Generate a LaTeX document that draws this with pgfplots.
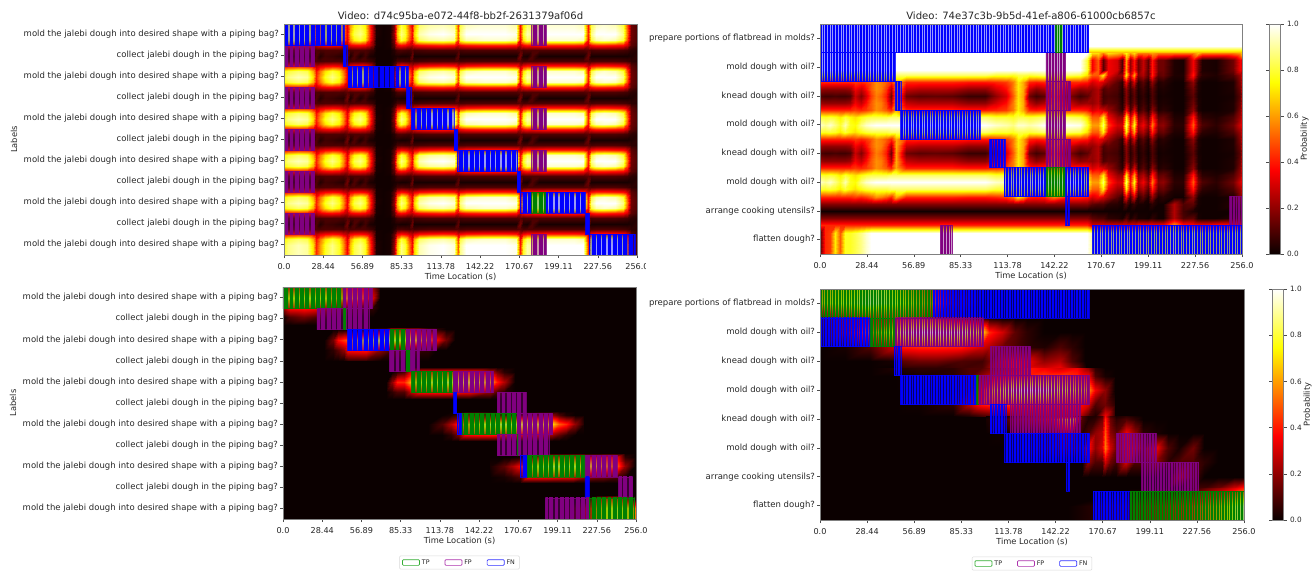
\documentclass[border=0pt]{standalone}
\usepackage{fontspec}
\setmainfont{DejaVu Sans}
\usepackage{pgfplots}
\pgfplotsset{compat=1.18}
\usetikzlibrary{patterns.meta}
\definecolor{hot0}{rgb}{0.0416,0,0}
\definecolor{cTP}{rgb}{0,0.5,0}
\definecolor{cFP}{rgb}{0.5,0,0.5}
\definecolor{cFN}{rgb}{0,0,1}
\definecolor{lTP}{rgb}{0.2,0.68,0.2}
\definecolor{lFP}{rgb}{0.68,0.2,0.68}
\definecolor{lFN}{rgb}{0.2,0.2,1}
\newcommand\heatgrid[2]{%
  \gdef\hd{}%
  \foreach \xx [count=\i] in {#1} {\expandafter\xdef\csname hx\i\endcsname{\xx}\xdef\hn{\i}}%
  \foreach \yy/\vv in {#2} {%
    \edef\tmpl{\vv}\gdef\hr{}%
    \foreach \mm [count=\i] in \tmpl {\xdef\hr{\hr (\csname hx\i\endcsname,\yy) [\mm]}}%
    \xdef\hd{\hd\hr}}%
  \edef\hdo{\noexpand\addplot[forget plot,surf,shader=interp,mesh/cols=\hn,point meta=explicit] coordinates {\hd};}\hdo}
\newcommand\rc[4]{%
  \pgfmathsetmacro\ya{#2-0.5}\pgfmathsetmacro\yb{#2+0.5}%
  \addplot[forget plot,draw=#1,line width=0.6pt,fill=#1,fill opacity=0.4,draw opacity=0.8] coordinates {(#3,\ya)(#4,\ya)(#4,\yb)(#3,\yb)} -- cycle;
  \addplot[forget plot,draw=none,fill opacity=0.65,pattern={Lines[angle=90,distance=\sd,line width=\sw]},pattern color=#1] coordinates {(#3,\ya)(#4,\ya)(#4,\yb)(#3,\yb)} -- cycle;}
\newcommand\FN[3]{\rc{cFN}{#1}{#2}{#3}}
\newcommand\FP[3]{\rc{cFP}{#1}{#2}{#3}}
\newcommand\TP[3]{\rc{cTP}{#1}{#2}{#3}}
% panel 1 vectors
\def\pA{.8,.88,.93,.9,.7,.42,.6,.78,.88,.78,.6,.35,.65,.82,.88,.78,.5,.25,.03,.01,.02,.2,.65,.88,.8,.55,.36,.68,.92,.98,1,.96,.5,.88,1,1,1,.98,.4,.78,.92,.88,.96,1,1,1,1,.42,.88,1,1,1,.88,.55,.15,.1}
\def\pQ{.74,.8,.85,.82,.62,.38,.54,.7,.8,.72,.55,.33,.58,.74,.8,.72,.45,.22,.02,.01,.02,.16,.58,.8,.72,.48,.33,.6,.84,.9,.92,.88,.45,.8,.92,.95,.95,.9,.36,.7,.84,.8,.88,.95,.95,.95,.92,.38,.8,.92,.95,.92,.8,.48,.14,.1}
\def\pE{.36,.38,.4,.38,.33,.26,.32,.36,.38,.36,.3,.25,.34,.37,.38,.36,.3,.18,.02,.01,.02,.12,.33,.38,.36,.3,.26,.33,.38,.4,.42,.4,.3,.36,.4,.42,.42,.4,.26,.36,.4,.38,.4,.42,.42,.42,.4,.28,.38,.42,.42,.4,.38,.3,.12,.08}
\def\pD{.09,.1,.1,.1,.09,.1,.09,.1,.1,.1,.09,.12,.09,.1,.1,.1,.08,.06,.01,.01,.01,.04,.09,.1,.09,.08,.11,.08,.09,.1,.1,.1,.11,.09,.1,.1,.1,.1,.12,.09,.1,.1,.1,.1,.1,.1,.1,.12,.09,.1,.1,.1,.09,.08,.05,.04}
\def\pB{.03,.03,.04,.03,.04,.1,.04,.08,.07,.05,.04,.15,.03,.1,.03,.08,.03,.02,.01,.01,.01,.02,.03,.02,.02,.03,.14,.02,.02,.02,.02,.02,.12,.02,.02,.02,.02,.02,.16,.03,.02,.1,.02,.02,.02,.02,.02,.14,.02,.02,.02,.02,.02,.02,.03,.05}
% panel 2 vectors
\def\qAl{1,1,1,1,1,1,1,1,1,1,1,1,1,1,1,1,1,1,1,1,1,1,1,1,1,1,1,1,1,1,1,1,1,.8}
\def\qEo{1,1,1,1,1,1,1,1,1,1,1,1,1,1,1,1,1,1,1,1,1,1,1,1,1,1,1,1,1,1,1,1,1,1,.7,.7,.55,.7,.65,.6,.75,.6,.7,.55,.55,.55,.6,.55,.55,.55,.55,.55,.65,.55,.55,.55,.6,.7}
\def\qA{\qAl,.35,.5,.12,.35,.3,.1,.6,.2,.4,.15,.28,.12,.4,.15,.15,.03,.02,.35,.15,.03,.02,.15,.35,.3}
\def\qK{.1,.08,.08,.09,.08,.08,.1,.28,.18,.3,.45,.55,.5,.4,.15,.6,.15,.12,.13,.12,.07,.07,.2,.3,.5,.7,.6,.15,.08,.12,.5,.2,.08,.12,.2,.25,.08,.1,.08,.02,.18,.04,.12,.02,.06,.01,.1,.01,.02,.01,.01,.12,.02,.01,.01,.02,.12,.3}
\def\qKQ{.22,.2,.2,.2,.2,.2,.22,.35,.28,.38,.5,.58,.55,.45,.25,.62,.28,.25,.25,.25,.2,.2,.3,.38,.55,.72,.62,.28,.2,.25,.55,.3,.2,.22,.2,.25,.1,.13,.1,.03,.2,.06,.15,.03,.08,.02,.12,.02,.03,.01,.01,.15,.03,.01,.01,.03,.15,.32}
\def\qEW{.42,.42,.42,.42,.42,.42,.42,.45,.42,.45,.5,.58,.55,.5,.42,.62,.42,.42,.42,.42,.4,.4,.42,.45,.55,.72,.62,.42,.4,.42,.55,.42,.42,.4,.3,.35,.3,.22,.12,.05,.35,.1,.3,.05,.12,.03,.2,.03,.05,.01,.01,.2,.03,.01,.01,.03,.18,.32}
\def\qWQ{.8,.78,.8,.78,.72,.8,.74,.7,.76,.8,.82,.82,.82,.82,.85,.85,.85,.85,.85,.85,.85,.85,.8,.8,.78,.82,.82,.8,.82,.85,.85,.85,.82,.7,.5,.5,.72,.35,.22,.2,.72,.3,.6,.18,.25,.12,.42,.12,.14,.03,.03,.4,.12,.05,.03,.1,.22,.32}
\def\qW{.95,.9,.95,.88,.8,.92,.78,.75,.88,.95,.98,1,1,1,1,1,1,1,1,1,1,1,.95,.92,.88,.95,.95,.92,.95,1,1,1,.98,.8,.6,.6,.85,.45,.3,.3,.85,.4,.75,.25,.35,.2,.55,.18,.2,.05,.05,.5,.18,.1,.05,.15,.3,.35}
\def\qNl{.18,.18,.18,.18,.18,.18,.18,.18,.18,.18,.18,.18,.18,.18,.18,.18,.18,.18,.18,.18,.18,.18,.18,.18,.18,.18,.18,.18,.18,.18,.18,.18,.18,.18}
\def\qNa{\qNl,.12,.1,.1,.05,.04,.02,.1,.02,.06,.02,.02,.01,.05,.01,.01,.25,.1,.12,.02,.01,.01,.04,.1,.2}
\def\qNo{.01,.01,.01,.01,.01,.01,.01,.01,.01,.01,.01,.01,.01,.01,.01,.01,.01,.01,.01,.01,.01,.01,.01,.01,.01,.01,.01,.01,.01,.01,.01,.01,.01,.01,.01,.01,.01,.01,.01,.01,.01,.01,.01,.01,.01,.01,.01,.01,.01,.25,.08,.03,.01,.01,.01,.01,.05,.1}
\def\qEN{.42,.42,.42,.42,.42,.42,.42,.42,.42,.42,.42,.42,.42,.42,.42,.42,.42,.42,.42,.42,.42,.42,.42,.42,.42,.42,.42,.42,.42,.42,.42,.42,.42,.42,.3,.3,.3,.3,.3,.3,.3,.3,.3,.35,.35,.35,.35,.35,.35,.6,.4,.38,.35,.35,.38,.38,.38,.4}
\def\qZ{.12,.42,.45,.72,.5,.78,.78,.82,.88,.95,1,1,1,1,1,1,1,1,1,1,1,1,1,1,1,1,1,1,1,1,1,1,1,1,.9,.9,.85,.8,.85,.8,.9,.8,.85,.8,.8,.75,.8,.75,.75,.85,.75,.85,.75,.75,.75,.8,.8,.7}
\def\moldq{mold the jalebi dough into desired shape with a piping bag?}
\def\collq{collect jalebi dough in the piping bag?}
\pgfplotsset{
  colormap={hot2}{rgb(0pt)=(0.0416,0,0) rgb(365pt)=(1,0,0) rgb(746pt)=(1,1,0) rgb(1000pt)=(1,1,1)},
  colormap name=hot2,
  base/.style={scale only axis,enlargelimits=false,axis on top,y dir=reverse,
    axis line style={draw=black!50,line width=0.8pt},
    tick style={draw=black!70,line width=0.5pt},tick align=outside,major tick length=3pt,
    xtick pos=bottom,ytick pos=left,
    /pgf/number format/assume math mode=true,
    yticklabel style={font=\fontsize{8.5}{10}\selectfont,text=black!85,xshift=1.5pt},
    xticklabel style={font=\fontsize{8.1}{10}\selectfont,text=black!85,yshift=-1.5pt},
    label style={font=\fontsize{8.3}{10}\selectfont,text=black!85},
    title style={font=\fontsize{10.1}{12}\selectfont,text=black!85,yshift=-5pt},
    xlabel={Time Location (s)},xlabel style={yshift=3pt},
    xmin=0,xmax=256,point meta min=0,point meta max=1,
    xtick={0,28.44,56.89,85.33,113.78,142.22,170.67,199.11,227.56,256},
    xticklabels={0.0,28.44,56.89,85.33,113.78,142.22,170.67,199.11,227.56,256.0}},
  rowsA/.style={ymin=-0.5,ymax=10.5,ytick={0,...,10},
    yticklabels={\moldq,\collq,\moldq,\collq,\moldq,\collq,\moldq,\collq,\moldq,\collq,\moldq},
    ylabel={Labels},ylabel style={at={(-270pt,0.5)},anchor=center,yshift=0pt}},
  rowsB/.style={ymin=-0.5,ymax=7.5,ytick={0,...,7},
    yticklabels={prepare portions of flatbread in molds?,mold dough with oil?,knead dough with oil?,mold dough with oil?,knead dough with oil?,mold dough with oil?,arrange cooking utensils?,flatten dough?}},
  cbar/.style={colorbar,colorbar style={at={(parent axis.north east)},anchor=north west,xshift=#1,width=11.5pt,
    ytick={0,0.2,0.4,0.6,0.8,1},yticklabels={0.0,0.2,0.4,0.6,0.8,1.0},
    axis line style={draw=black!50},
    ylabel={Probability},ylabel style={font=\fontsize{8.3}{10}\selectfont,text=black!85,yshift=5pt},
    /pgf/number format/assume math mode=true,
    yticklabel style={font=\fontsize{7.3}{9}\selectfont,text=black!85},tick align=outside,major tick length=3pt}},
  leg/.style={legend columns=3,legend style={at={(0.5,0)},anchor=center,yshift=-43.5pt,
    font=\fontsize{6.3}{7.5}\selectfont,draw=black!15,line width=0.5pt,rounded corners=1pt,inner xsep=2.5pt,inner ysep=1.5pt,
    /tikz/every even column/.append style={column sep=13pt},text=black!85}},
}
\newcommand\legimg{%
  \addlegendimage{area legend,draw=lTP,fill=white,line width=0.7pt}\addlegendentry{TP}
  \addlegendimage{area legend,draw=lFP,fill=white,line width=0.7pt}\addlegendentry{FP}
  \addlegendimage{area legend,draw=lFN,fill=white,line width=0.7pt}\addlegendentry{FN}}
\begin{document}
\begin{tikzpicture}[x=1pt,y=1pt]
\useasboundingbox (0,0) rectangle (1315,571);
% ---------------- top left
\def\sd{5.3pt}\def\sw{3.9pt}
\begin{axis}[base,rowsA,at={(284pt,316pt)},anchor=south west,width=353pt,height=231pt,
  title={Video: d74c95ba-e072-44f8-bb2f-2631379af06d}]
\heatgrid{0,3,10,17,21,23.5,26,30,35,40,43,45.5,48,51,55,59,62,64.5,67,72,77,79.5,82,85,88,90.5,92.5,94.5,98,105,115,123,126,128,132,145,160,168,171.5,173.5,176,180,185,190,200,210,217,220.5,223,226,232,240,246,249,252,256}{
 -0.5/\pQ,0/\pA,0.25/\pQ,0.5/\pE,0.75/\pD,1/\pB,1.25/\pD,1.5/\pE,1.75/\pQ,2/\pA,2.25/\pQ,2.5/\pE,2.75/\pD,3/\pB,3.25/\pD,3.5/\pE,3.75/\pQ,4/\pA,4.25/\pQ,4.5/\pE,4.75/\pD,5/\pB,5.25/\pD,5.5/\pE,5.75/\pQ,6/\pA,6.25/\pQ,6.5/\pE,6.75/\pD,7/\pB,7.25/\pD,7.5/\pE,7.75/\pQ,8/\pA,8.25/\pQ,8.5/\pE,8.75/\pD,9/\pB,9.25/\pD,9.5/\pE,9.75/\pQ,10/\pA,10.5/\pA}
\FP{1}{0}{22.2}\FP{3}{0}{22.2}\FP{5}{0}{22.2}\FP{7}{0}{22.2}\FP{9}{0}{22.2}
\FP{0}{179.7}{190}\FP{2}{179.7}{190}\FP{4}{179.7}{190}\FP{6}{179.7}{190}\FP{10}{179.7}{190}
\FN{0}{0}{43.6}\FN{1}{43}{45.7}\FN{2}{46.3}{89.8}\FN{3}{89}{92}\FN{4}{92.5}{123.2}\FN{5}{123.2}{126}\FN{6}{126}{169.5}\FN{7}{169.2}{171.3}
\FN{8}{171.3}{179.7}\TP{8}{179.7}{190}\FN{8}{190}{218.5}\FN{9}{218.8}{221.5}\FN{10}{221.5}{254.5}
\end{axis}
% ---------------- top right
\def\sd{2.7pt}\def\sw{1.7pt}
\begin{axis}[base,rowsB,cbar=18.5pt,at={(820pt,317pt)},anchor=south west,width=422pt,height=230pt,
  title={Video: 74e37c3b-9b5d-41ef-a806-61000cb6857c}]
\heatgrid{0,160,162,256}{-0.5/{1,1,1,1},0.25/{1,1,1,1},0.5/{1,1,.6,.6}}
\heatgrid{0,3,6,9,12,15,18,21,25,28,31,34,37,40,43,46,52,60,70,80,90,100,107,113,117,120,123,127,131,136,142,150,158,162,165,168.8,171.7,175,180,183,185.6,188,190.5,193,196,199,201.7,205,208,215,220,226,229,232,240,250.6,254.8,256}{
 0.5/\qEo,0.75/\qA,1.1/\qA,1.28/\qWQ,1.5/\qEW,1.75/\qKQ,2/\qK,2.25/\qKQ,2.5/\qEW,2.75/\qWQ,3/\qW,3.25/\qWQ,3.5/\qEW,3.75/\qKQ,4/\qK,4.25/\qKQ,4.5/\qEW,4.75/\qWQ,5/\qW,5.25/\qWQ,5.5/\qEW,5.75/\qNa,6/\qNo,6.25/\qNa,6.5/\qEN,6.78/\qZ,7.5/\qZ}
\FP{7}{72.8}{80.3}\FP{1}{137}{149}\FP{3}{137}{149}\FP{2}{137}{152}\FP{4}{137}{152}\FP{6}{248.5}{256}
\FN{0}{0}{143}\TP{0}{143}{147.7}\FN{0}{147.7}{163}\FN{1}{0}{45.6}\FN{2}{45.4}{49.2}\FN{3}{49}{97}\FN{4}{103}{112.3}
\FN{5}{111.6}{137}\TP{5}{137}{149}\FN{5}{149}{163}\FN{6}{149}{151.3}\FN{7}{165}{256}
\end{axis}
% ---------------- bottom left
\def\sd{5.3pt}\def\sw{3.9pt}
\begin{axis}[base,rowsA,leg,at={(283pt,52pt)},anchor=south west,width=353pt,height=232pt,axis background/.style={fill=hot0}]
\legimg
\heatgrid{0,5,15,25,35,44,55,65,70}{-0.5/{.3,.35,.4,.4,.4,.4,.35,.2,0},0/{.7,.75,.8,.8,.7,.6,.55,.3,0},0.5/{.2,.38,.4,.36,.2,.1,.1,.05,0},0.9/{0,.1,.15,.1,.03,0,0,0,0},1.3/{0,0,0,0,0,0,0,0,0}}
\heatgrid{30,36,40,44,47,60,70,78,90,105,112,118,125}{1.4/{0,0,0,0,0,0,0,0,0,0,0,0,0},1.5/{0,0,0,0,0,.05,.1,.35,.3,.1,.05,0,0},2/{0,.15,.38,.45,.5,.7,.8,.85,.8,.55,.35,.15,0},2.5/{0,.05,.12,.2,.38,.4,.2,.1,.1,.05,0,0,0},3/{0,0,0,0,.05,.05,0,0,0,0,0,0,0}}
\heatgrid{75,79,83,88,92,100,120,135,150,155,160,168}{3.3/{0,0,0,0,0,0,0,0,0,0,0,0},3.55/{0,0,.05,.1,.3,.4,.42,.42,.3,.15,.05,0},4/{0,.2,.42,.42,.6,.8,.85,.8,.65,.4,.25,0},4.5/{0,.05,.1,.1,.25,.38,.4,.35,.2,.1,.05,0},4.8/{0,0,0,0,0,0,0,0,0,0,0,0}}
\heatgrid{105,115,122,127,132,150,170,185,195,200,205,212,218}{5.4/{0,0,0,0,0,0,0,0,0,0,0,0,0},5.55/{0,0,.02,.08,.2,.1,.1,.15,.2,.1,.03,0,0},6/{0,.1,.25,.4,.65,.85,.85,.75,.7,.5,.42,.2,.03},6.5/{0,0,.05,.15,.35,.38,.35,.3,.2,.12,.05,0,0},6.8/{0,0,0,0,0,0,0,0,0,0,0,0,0}}
\heatgrid{150,160,165,172,178,190,210,220,232,242,248,255}{7.35/{0,0,0,0,0,0,0,0,0,0,0,0},7.55/{0,0,0,.03,.1,.38,.4,.3,.4,.35,.05,0},8/{.02,.12,.22,.35,.7,.85,.85,.75,.6,.5,.2,0},8.5/{0,.02,.05,.1,.38,.38,.35,.2,.15,.1,.02,0},8.8/{0,0,0,0,0,0,0,0,0,0,0,0}}
\heatgrid{205,215,222,228,235,243,250,254,256}{9.35/{0,0,0,0,0,0,0,0,0},9.55/{0,0,.05,.3,.42,.42,.2,.05,0},10/{0,.1,.3,.6,.75,.8,.7,.6,.5},10.5/{0,.1,.3,.6,.75,.8,.7,.6,.5}}
\TP{0}{0}{43.9}\FP{0}{43.9}{64.6}
\FP{1}{24.6}{43.9}\TP{1}{43.9}{45.7}\FP{1}{45.7}{62.5}
\FN{2}{46.9}{77.8}\TP{2}{77.8}{89.5}\FP{2}{89.5}{111.5}
\FP{3}{77.2}{89.2}\TP{3}{89.2}{92.3}\FP{3}{92.3}{98.9}
\TP{4}{93.2}{123.5}\FP{4}{123.5}{152.4}
\FN{5}{123.8}{125.9}\FP{5}{155.4}{176.4}
\FN{6}{126.2}{129.8}\TP{6}{129.8}{169.8}\FP{6}{169.8}{195.6}
\FP{7}{155.4}{170.1}\TP{7}{170.1}{171}\FP{7}{171}{193.2}
\FN{8}{171.9}{177.3}\TP{8}{177.3}{219}\FP{8}{219}{242.5}
\FN{9}{219}{222}\FP{9}{243.4}{253.6}
\FP{10}{190.2}{222}\TP{10}{222}{255}
\end{axis}
% ---------------- bottom right
\def\sd{2.7pt}\def\sw{1.7pt}
\begin{axis}[base,rowsB,leg,cbar=19.5pt,at={(820pt,51pt)},anchor=south west,width=424pt,height=231pt,axis background/.style={fill=hot0}]
\legimg
\heatgrid{0,10,20,30,40,50,60,68,80,100}{-0.5/{.6,.7,.7,.85,.8,.65,.55,.4,.1,0},0/{.65,.75,.8,.95,.85,.75,.65,.5,.15,0},0.5/{.1,.25,.3,.35,.4,.45,.4,.2,.08,0}}
\heatgrid{0,15,30,45,50,60,70,85,98,102,110,118,125,135,145,152,160}{0.5/{.1,.25,.3,.35,.4,.45,.4,.2,.08,.03,0,0,0,0,0,0,0},1/{.05,.25,.5,.8,.9,1,1,.95,.7,.42,.3,.12,.05,0,0,0,0},1.5/{0,.02,.1,.3,.4,.42,.42,.4,.3,.25,.15,.1,.05,.03,.1,.05,0},2/{0,0,0,.02,.12,.15,.15,.1,.08,.15,.3,.38,.35,.2,.25,.1,0},2.25/{0,0,0,0,.05,.05,.05,.08,.1,.2,.3,.4,.35,.3,.35,.2,.03}}
\heatgrid{0,30,45,60,80,90,97,105,115,125,135,145,155,162,166,172,178}{2.25/{0,0,.03,.05,.05,.1,.1,.2,.3,.4,.35,.3,.35,.2,.05,0,0},2.5/{0,0,0,.02,.05,.1,.2,.3,.38,.42,.45,.45,.42,.35,.1,.02,0},3/{0,0,0,0,.02,.1,.35,.65,.9,1,.95,.8,.7,.6,.35,.2,0},3.5/{0,0,0,.01,.05,.25,.38,.42,.42,.42,.42,.4,.4,.3,.1,.15,.05},3.9/{0,0,0,0,0,.03,.08,.12,.2,.25,.3,.3,.3,.1,.03,.35,.05}}
\heatgrid{100,112,120,130,140,146,152,158,162,166,170,172,175,179,185,190,195,203,210,217,225,232,240,250,256}{
3.9/{0,.05,.15,.25,.3,.3,.28,.1,.03,.03,.1,.35,.1,.02,.05,.02,0,0,0,0,0,0,0,0,0},
4/{.02,.1,.2,.28,.35,.55,.7,.1,.03,.05,.15,.42,.15,.05,.1,.05,0,0,0,0,0,0,0,0,0},
4.5/{0,.01,.02,.05,.1,.2,.2,.05,.1,.2,.25,.5,.2,.12,.35,.2,.05,.02,0,0,0,0,0,0,0},
5/{0,0,.02,.05,.1,.15,.15,.1,.4,.2,.3,.55,.3,.15,.35,.3,.15,.35,.1,.02,.15,0,0,0,0},
5.5/{0,0,0,0,0,0,0,0,.2,.1,.1,.3,.15,.08,.3,.1,.1,.2,.05,.1,.1,.05,0,0,0},
6/{0,0,0,0,0,0,0,0,0,0,0,0,0,0,0,0,0,0,0,.25,.1,0,0,0,0},
6.4/{0,0,0,0,0,0,0,0,0,0,0,0,0,0,0,0,0,0,0,0,.08,.08,.15,.3,.42}}
\heatgrid{0,150,188,200,220,228,235,245,252,256}{6.4/{0,0,0,0,.02,.08,.15,.25,.35,.42},7/{0,0,.1,.2,.35,.45,.55,.7,.85,.95},7.5/{0,0,.1,.2,.35,.45,.55,.7,.85,.95}}
\TP{0}{0}{68.2}\FN{0}{68.2}{162.5}
\FN{1}{0}{30.1}\TP{1}{30.1}{45.2}\FP{1}{45.2}{98.4}
\FN{2}{44.7}{48.8}\FP{2}{103}{127.2}
\FN{3}{48.3}{94.5}\TP{3}{94.5}{96}\FP{3}{96}{162.5}
\FN{4}{102.7}{112.2}\FP{4}{115}{156.9}
\FN{5}{111.4}{162.5}\FP{5}{179}{203.1}
\FN{6}{148.7}{150.7}\FP{6}{194.2}{228.7}
\FN{7}{164.8}{187.3}\TP{7}{187.3}{256}
\end{axis}
\fill[white] (645.5,298) rectangle (665,312);
\fill[white] (646.5,34) rectangle (665,48);
\end{tikzpicture}
\end{document}
